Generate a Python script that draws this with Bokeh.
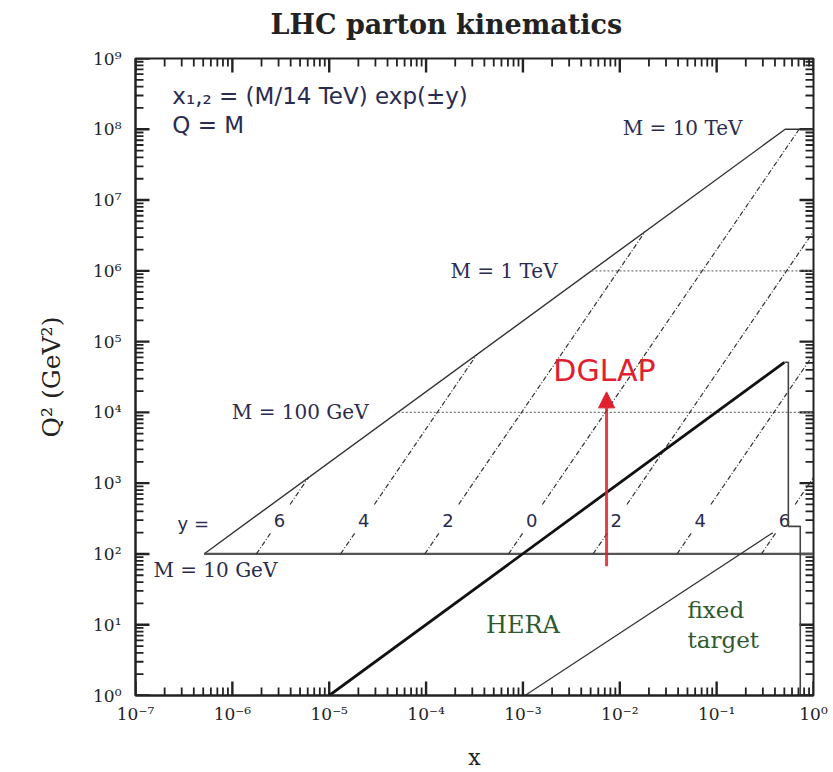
import math
from bokeh.plotting import figure
from bokeh.models import (Range1d, FixedTicker, CustomJSTickFormatter,
                          Arrow, NormalHead, Label, Title)
from bokeh.embed import file_html
from bokeh.resources import INLINE
from bokeh.core.properties import value

# ---------------- data ----------------
# upper edge of the LHC region (x*s = Q^2) and the M = 10 TeV cap
lhc_edge_x = [5.1e-7, 0.51, 1.0]
lhc_edge_q2 = [1e2, 1e8, 1e8]
# M = 10 GeV (solid) line
m10_x = [5.1e-7, 1.0]
m10_q2 = [1e2, 1e2]
# M = 100 GeV and M = 1 TeV (dotted) lines
mass_dot_x_start = [5.1e-5, 5.1e-3]
mass_dot_x_end = [1.0, 1.0]
mass_dot_q2 = [1e4, 1e6]
# lines of constant rapidity y = 6,4,2,0,-2,-4,-6
rap_labels = ["6", "4", "2", "0", "2", "4", "6"]
rap_x_start = [1.77e-6, 1.31e-5, 9.7e-5, 7.1e-4, 5.3e-3, 3.9e-2, 0.29]
rap_q2_start = [1e2, 1e2, 1e2, 1e2, 1e2, 1e2, 1e2]
rap_x_end = [6.1e-6, 3.35e-4, 1.83e-2, 0.71, 1.0, 1.0, 1.0]
rap_q2_end = [1.2e3, 6.6e4, 3.6e6, 1e8, 3.6e6, 6.6e4, 1.2e3]
rap_label_q2 = 300.0
rap_gap_q2 = [200.0, 500.0]
# HERA region
hera_edge_x = [1e-5, 0.5]
hera_edge_q2 = [1.0, 5.1e4]
hera_box_x = [0.5, 0.55, 0.55, 0.73, 0.73]
hera_box_q2 = [5.1e4, 5.1e4, 245.0, 245.0, 1.0]
# fixed target edge
fixed_x = [1.05e-3, 0.38]
fixed_q2 = [1.0, 200.0]
# DGLAP arrow
dglap_x = 7.3e-3
dglap_q2 = [67.0, 1.95e4]
x_ticks = [1e-7, 1e-6, 1e-5, 1e-4, 1e-3, 1e-2, 1e-1, 1.0]
y_ticks = [1.0, 1e1, 1e2, 1e3, 1e4, 1e5, 1e6, 1e7, 1e8, 1e9]

# ---------------- styling ----------------
NAVY = "#2b2b4f"
LINE = "#333333"
RED = "#e0202e"
GREEN = "#2f5a2f"
AXC = "#222222"
SERIF = "DejaVu Serif"
SANS = "DejaVu Sans"

W, H = 833, 772
BL, BR, BT, BB = 135, 20, 58, 74
X0, X1 = x_ticks[0], x_ticks[-1]
Y0, Y1 = y_ticks[0], y_ticks[-1]

p = figure(width=W, height=H, x_axis_type="log", y_axis_type="log",
           x_range=Range1d(X0, X1), y_range=Range1d(Y0, Y1),
           title=None,
           output_backend="svg", toolbar_location=None,
           min_border_left=BL, min_border_right=BR,
           min_border_top=BT, min_border_bottom=BB,
           background_fill_color="white", border_fill_color="white")
p.grid.visible = False
p.outline_line_color = AXC
p.outline_line_width = 2

# small spacer panel next to the frame, then the real title above it
p.add_layout(Title(text=" ", text_font_size="11px", standoff=0), "above")
p.add_layout(Title(text="LHC parton kinematics", text_font=SERIF,
                   text_font_style="bold", text_font_size="27px",
                   text_color=AXC, align="left", offset=135, standoff=6,
                   vertical_align="top"), "above")

def minor(ticks):
    out = []
    for t in ticks[:-1]:
        for m in range(2, 10):
            out.append(m * t)
    return out

sup_code = """
const sup = {"-":"\u207b","0":"\u2070","1":"\u00b9","2":"\u00b2","3":"\u00b3","4":"\u2074","5":"\u2075","6":"\u2076","7":"\u2077","8":"\u2078","9":"\u2079"};
const e = Math.round(Math.log10(tick));
return "10" + String(e).split("").map(c => sup[c]).join("");
"""

xa = p.xaxis[0]
ya = p.yaxis[0]
for ax, ticks in ((xa, x_ticks), (ya, y_ticks)):
    ax.ticker = FixedTicker(ticks=ticks, minor_ticks=minor(ticks))
    ax.major_tick_in = 0
    ax.major_tick_out = 0
    ax.minor_tick_in = 0
    ax.minor_tick_out = 0
    ax.axis_line_width = 2
    ax.axis_line_color = AXC
    ax.formatter = CustomJSTickFormatter(code=sup_code)
    ax.major_label_text_font = SERIF
    ax.major_label_text_font_size = "17px"
    ax.major_label_text_color = AXC
    ax.axis_label_text_font = SERIF
    ax.axis_label_text_font_style = "normal"
    ax.axis_label_text_color = AXC
xa.axis_label_text_font_size = "22px"
ya.axis_label_text_font_size = "25px"
xa.major_label_standoff = 8
ya.major_label_standoff = 14
xa.axis_label = "x"
ya.axis_label = "Q\u00b2 (GeV\u00b2)"
xa.axis_label_standoff = 18
ya.axis_label_standoff = 24

# inward ticks on all four sides, drawn as short segments (pixel length -> decades)
dec_x = (W - BL - BR) / (math.log10(X1) - math.log10(X0))
dec_y = (H - BT - BB) / (math.log10(Y1) - math.log10(Y0))
for xs, L, w in ((x_ticks, 14, 2.4), (minor(x_ticks), 8, 1.8)):
    f = 10 ** (L / dec_y)
    n = len(xs)
    p.segment(x0=xs, y0=[Y0] * n, x1=xs, y1=[Y0 * f] * n, line_color=AXC, line_width=w)
    p.segment(x0=xs, y0=[Y1] * n, x1=xs, y1=[Y1 / f] * n, line_color=AXC, line_width=w)
for ys, L, w in ((y_ticks, 14, 2.4), (minor(y_ticks), 8, 1.8)):
    f = 10 ** (L / dec_x)
    n = len(ys)
    p.segment(x0=[X0] * n, y0=ys, x1=[X0 * f] * n, y1=ys, line_color=AXC, line_width=w)
    p.segment(x0=[X1] * n, y0=ys, x1=[X1 / f] * n, y1=ys, line_color=AXC, line_width=w)

# ---------------- lines ----------------
p.line(lhc_edge_x, lhc_edge_q2, line_color=LINE, line_width=1.4)
p.line(m10_x, m10_q2, line_color="#555555", line_width=2.2)
for xs, xe, q in zip(mass_dot_x_start, mass_dot_x_end, mass_dot_q2):
    p.line([xs, xe], [q, q], line_color="#777777", line_width=1.2, line_dash="2 2")

def along(x0, q0, x1, q1, q):
    t = (math.log10(q) - math.log10(q0)) / (math.log10(q1) - math.log10(q0))
    return 10 ** (math.log10(x0) + t * (math.log10(x1) - math.log10(x0)))

lab_x = []
for x0, q0, x1, q1 in zip(rap_x_start, rap_q2_start, rap_x_end, rap_q2_end):
    xa_ = along(x0, q0, x1, q1, rap_gap_q2[0])
    xb_ = along(x0, q0, x1, q1, rap_gap_q2[1])
    p.line([x0, xa_], [q0, rap_gap_q2[0]], line_color=LINE, line_width=1.2, line_dash="5 2 1 2")
    p.line([xb_, x1], [rap_gap_q2[1], q1], line_color=LINE, line_width=1.2, line_dash="5 2 1 2")
    lab_x.append(along(x0, q0, x1, q1, rap_label_q2))

p.text(x=lab_x, y=[rap_label_q2] * len(lab_x), text=rap_labels,
       text_align="center", text_baseline="middle",
       text_font=value(SANS), text_font_size="18px", text_color=NAVY)

p.line(hera_edge_x, hera_edge_q2, line_color="#111111", line_width=2.8)
p.line(hera_box_x, hera_box_q2, line_color="#444444", line_width=1.6)
p.line(fixed_x, fixed_q2, line_color=LINE, line_width=1.2)

arrow = Arrow(end=NormalHead(size=16, fill_color=RED, line_color=RED),
              x_start=dglap_x, y_start=dglap_q2[0], x_end=dglap_x, y_end=dglap_q2[1],
              line_color=RED, line_width=3, line_alpha=0.85)
p.add_layout(arrow)

# ---------------- texts ----------------
def lab(x, y, text, font, size, color, align="left", style="normal"):
    p.add_layout(Label(x=x, y=y, text=text, text_font=font, text_font_size=size,
                       text_color=color, text_align=align, text_baseline="middle",
                       text_font_style=style))

lab(2.4e-7, 3.0e8, "x\u2081,\u2082 = (M/14 TeV) exp(\u00b1y)", SANS, "23px", NAVY)
lab(2.4e-7, 1.15e8, "Q = M", SANS, "23px", NAVY)
lab(0.185, 1.04e8, "M = 10 TeV", SERIF, "20px", NAVY, align="right")
lab(2.28e-3, 9.8e5, "M = 1 TeV", SERIF, "20px", NAVY, align="right")
lab(2.55e-5, 1.0e4, "M = 100 GeV", SERIF, "20px", NAVY, align="right")
lab(1.53e-7, 59, "M = 10 GeV", SERIF, "20px", NAVY)
lab(2.72e-7, 271, "y =", SANS, "18px", NAVY)
lab(1.0e-3, 10, "HERA", SERIF, "24px", GREEN, align="center")
lab(0.05, 16.2, "fixed", SERIF, "23px", GREEN)
lab(0.05, 6.1, "target", SERIF, "23px", GREEN)
lab(6.95e-3, 3.85e4, "DGLAP", SANS, "30px", RED, align="center")

open("out.html", "w").write(file_html(p, INLINE))
